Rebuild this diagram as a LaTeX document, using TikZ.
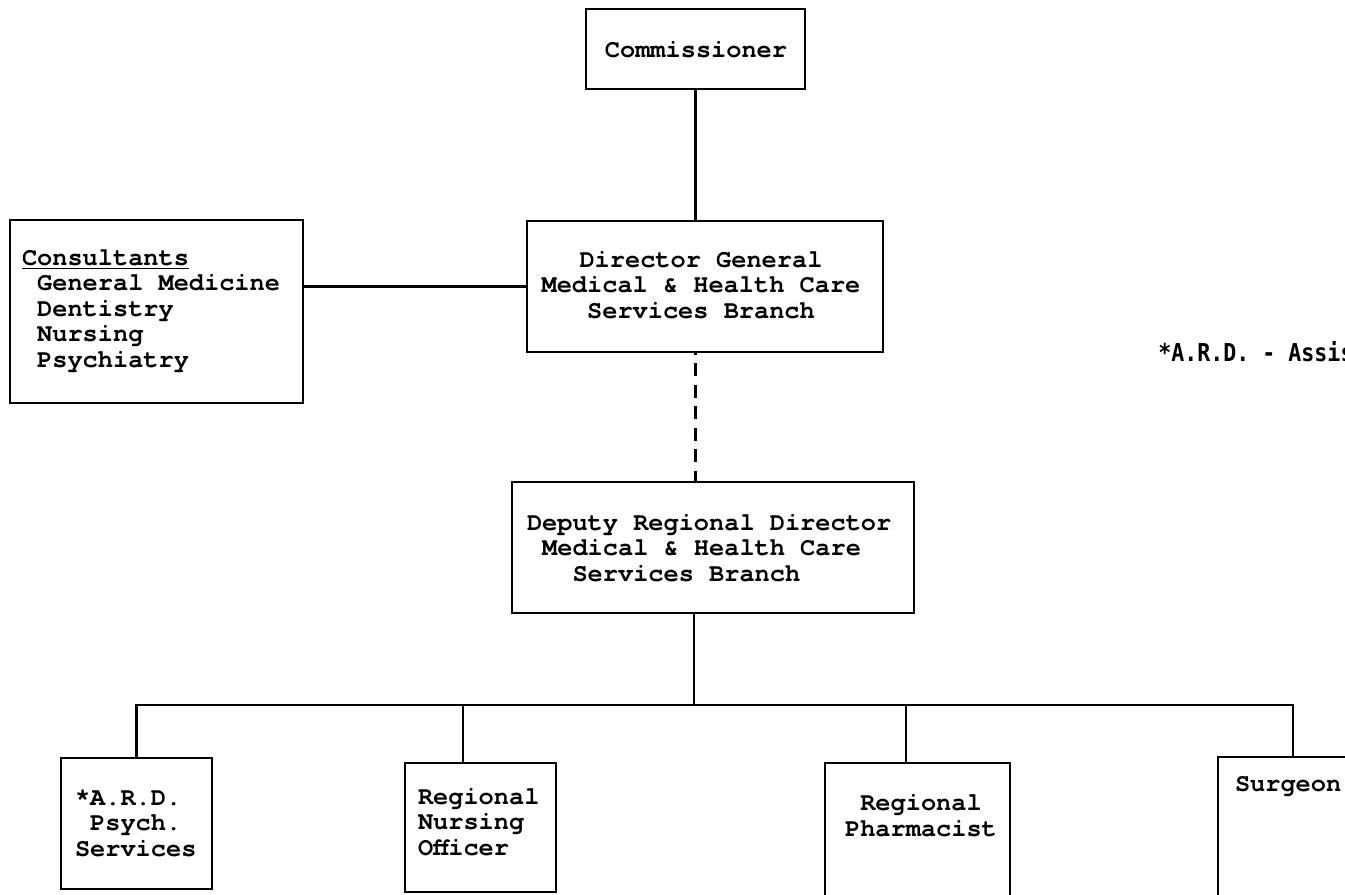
\documentclass[tikz,border=0pt]{standalone}
\usepackage{fontspec}
\setmonofont{TeX Gyre Cursor Bold}
\newfontfamily\notefont{DejaVu Sans Mono Bold}
\newcommand\tsp{\hspace*{0.6em}}
\begin{document}
\begin{tikzpicture}[x=0.02cm,y=-0.02cm,
  box/.style={draw,line width=1.2pt,inner sep=0pt,outer sep=0pt},
  txt/.style={font=\fontsize{14.4}{14.5}\selectfont\ttfamily,inner sep=0pt,outer sep=0pt},
  link/.style={line width=1.2pt},
  dotted link/.style={line width=1.4pt,dash pattern=on 0.26cm off 0.17cm,dash phase=0.2cm}]
\useasboundingbox (0,0) rectangle (1345,895);

% boxes
\node[box,minimum width=219*0.02cm,minimum height=80*0.02cm] (comm) at (695.5,49) {};
\node[box,minimum width=356*0.02cm,minimum height=131*0.02cm] (dg) at (705,286.5) {};
\node[box,minimum width=293*0.02cm,minimum height=183*0.02cm] (cons) at (156.5,311.5) {};
\node[box,minimum width=402*0.02cm,minimum height=131*0.02cm] (drd) at (713,547.5) {};
\node[box,minimum width=151*0.02cm,minimum height=131*0.02cm] (ard) at (136.5,823.5) {};
\node[box,minimum width=151*0.02cm,minimum height=129*0.02cm] (rno) at (480.5,827.5) {};
\node[box,minimum width=185*0.02cm,minimum height=142*0.02cm] (rph) at (917.5,834) {};
\node[box,minimum width=182*0.02cm,minimum height=148*0.02cm] (surg) at (1309,831) {};

% box texts
\node[txt] (commT) at (696,50) {Commissioner};
\node[txt,align=center] (dgT) at (701,285) {Director General\\Medical \& Health Care\\Services Branch};
\node[txt,align=left,anchor=west] (consT) at (22,311) {\underline{Consultants}\\\tsp General Medicine\\\tsp Dentistry\\\tsp Nursing\\\tsp Psychiatry};
\node[txt,align=left,anchor=west] (drdT) at (527,548) {Deputy Regional Director\\\tsp Medical \& Health Care\\\tsp\tsp\tsp Services Branch};
\node[txt,align=left,anchor=west] (ardT) at (75,823) {*A.R.D.\\\tsp Psych.\\Services};
\node[txt,align=left,anchor=west] (rnoT) at (418,822) {Regional\\Nursing\\Officer};
\node[txt,align=center] (rphT) at (921,815.5) {Regional\\Pharmacist};
\node[txt,anchor=west] (surgT) at (1235,787) {Surgeon};

% footnote, running off the right edge of the page
\node[inner sep=0pt,anchor=west] (note) at (1158,352)
  {\scalebox{1}[1.14]{\fontsize{12.3}{14}\notefont *A.R.D. - Assis}};

% connectors
\draw[link] (comm.south) -- (comm.south |- dg.north);
\draw[link] (dg.west) -- (dg.west -| cons.east);
\draw[dotted link] (comm.south |- dg.south) -- (comm.south |- drd.north);

\coordinate (bus) at (694,705);
\coordinate (busR) at (1293,705);
\coordinate (d2) at (463,705);
\coordinate (d3) at (906,705);
\draw[link] (bus |- drd.south) -- (bus);
\draw[link] (ard.north) |- (busR) -- (busR |- surg.north);
\draw[link] (d2) -- (d2 |- rno.north);
\draw[link] (d3) -- (d3 |- rph.north);
\end{tikzpicture}
\end{document}
